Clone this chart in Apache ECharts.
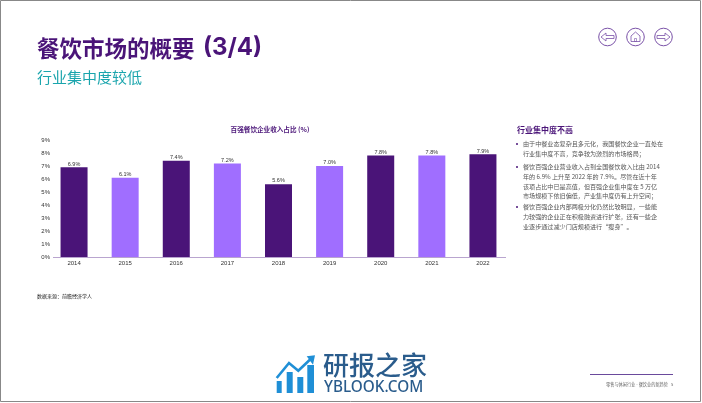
<!DOCTYPE html>
<html>
<head>
<meta charset="utf-8">
<style>
    html, body { margin: 0; padding: 0; background: #fff; }
    #chart { width: 702px; height: 403px; }
</style>
<script src="https://cdn.jsdelivr.net/npm/echarts@6/dist/echarts.min.js"></script>
</head>
<body>
<div id="chart"></div>
<script>
    const years = ['2014', '2015', '2016', '2017', '2018', '2019', '2020', '2021', '2022'];
    const shares = [6.9, 6.1, 7.4, 7.2, 5.6, 7.0, 7.8, 7.8, 7.9];
    const yTicks = [0, 1, 2, 3, 4, 5, 6, 7, 8, 9];

    const paragraphs = [
        ['由于中餐业态复杂且多元化，我国餐饮企业一直处在', '行业集中度不高，竞争较为激烈的市场格局；'],
        ['餐饮百强企业营业收入占到全国餐饮收入比由 2014', '年的 6.9% 上升至 2022 年的 7.9%。尽管在近十年', '该项占比中已是高值，但百强企业集中度在 5 万亿', '市场规模下依旧偏低，产业集中度仍有上升空间；'],
        ['餐饮百强企业内部两极分化仍然比较明显，一些能', '力较强的企业正在积极融资进行扩张，还有一些企', '业逐步通过减少门店规模进行“瘦身”。']
    ];
    const paragraphTops = [144, 167, 207];

    const DARK = '#4a1478';
    const LIGHT = '#a06eff';
    const TEAL = '#1aa5ad';
    const ICON = '#7a52a8';
    const FONT = '"Noto Sans CJK SC", "Noto Sans", sans-serif';
    const LATIN = '"Liberation Sans", "Noto Sans CJK SC", sans-serif';

    function label(x, y, text, size, fill, weight, align, family) {
        return {
            type: 'text', x: x, y: y, silent: true,
            style: {
                text: text, fill: fill, align: align || 'left', verticalAlign: 'middle',
                font: (weight || 'normal') + ' ' + size + 'px ' + (family || FONT)
            }
        };
    }

    // 右侧说明文字，每行单独放
    function sideNotes() {
        let items = [label(517, 130, '行业集中度不高', 8, DARK, 'bold')];
        paragraphs.forEach((lines, i) => {
            items.push({ type: 'circle', silent: true, shape: { cx: 517, cy: paragraphTops[i], r: 1 }, style: { fill: DARK } });
            lines.forEach((line, j) => {
                items.push(label(523, paragraphTops[i] + j * 9.6, line, 6.1, '#555'));
            });
        });
        return items;
    }

    // 右上角三个导航图标
    function navIcons() {
        let items = [];
        [607.5, 635.5, 663.5].forEach(cx => {
            items.push({ type: 'circle', silent: true, shape: { cx: cx, cy: 37, r: 8.8 }, style: { fill: 'none', stroke: ICON, lineWidth: 1 } });
        });
        const line = { fill: 'none', stroke: ICON, lineWidth: 0.8 };
        items.push({ type: 'polygon', silent: true, shape: { points: [[601, 37], [606, 33], [606, 35.5], [614, 35.5], [614, 38.5], [606, 38.5], [606, 41]] }, style: line });
        items.push({ type: 'polygon', silent: true, shape: { points: [[670, 37], [665, 33], [665, 35.5], [657, 35.5], [657, 38.5], [665, 38.5], [665, 41]] }, style: line });
        items.push({ type: 'polygon', silent: true, shape: { points: [[635.5, 32], [640, 36], [640, 41.5], [631, 41.5], [631, 36]] }, style: line });
        items.push({ type: 'rect', silent: true, shape: { x: 634.5, y: 38.5, width: 2, height: 3 }, style: { fill: 'none', stroke: ICON, lineWidth: 0.6 } });
        return items;
    }

    // 底部水印
    function watermark() {
        const blue = '#1f8fd6';
        let items = [];
        [[276.7, 381, 5], [286.7, 372, 6], [297.3, 377, 6], [307.3, 365, 6.7]].forEach(b => {
            items.push({ type: 'rect', silent: true, shape: { x: b[0], y: b[1], width: b[2], height: 393 - b[1] }, style: { fill: blue } });
        });
        items.push({ type: 'polyline', silent: true, shape: { points: [[276.7, 378], [289, 363], [298.3, 370.7], [311.7, 358]] }, style: { fill: 'none', stroke: blue, lineWidth: 2.6 } });
        items.push({ type: 'polygon', silent: true, shape: { points: [[306.7, 356.3], [315, 355.3], [313, 364.7]] }, style: { fill: blue } });
        items.push(label(323, 365, '研报之家', 26, '#2a5c8c', '500'));
        items.push(label(324, 388, 'YBLOOK.COM', 15.3, '#2a5c8c', '500', 'left', '"Noto Sans", sans-serif'));
        return items;
    }

    const chart = echarts.init(document.getElementById('chart'), null, { renderer: 'canvas' });

    const option = {
        animation: false,
        backgroundColor: '#fff',
        grid: { left: 48.5, top: 140, width: 460, height: 117 },
        xAxis: {
            type: 'category',
            data: years,
            axisTick: { show: false },
            axisLine: { show: false },
            axisLabel: { color: '#333', fontSize: 6, fontFamily: LATIN, margin: 3.5 }
        },
        yAxis: {
            type: 'value',
            min: yTicks[0],
            max: yTicks[yTicks.length - 1],
            interval: 1,
            splitLine: { show: false },
            axisLine: { show: false },
            axisTick: { show: false },
            axisLabel: { formatter: '{value}%', color: '#333', fontSize: 6, fontFamily: LATIN, margin: -1.5 }
        },
        series: [{
            type: 'bar',
            data: shares,
            barWidth: 27,
            itemStyle: {
                color: params => params.dataIndex % 2 ? LIGHT : DARK
            },
            label: {
                show: true,
                position: 'top',
                distance: 0.5,
                color: '#333',
                fontSize: 5.5,
                fontFamily: LATIN,
                formatter: params => params.value.toFixed(1) + '%'
            }
        }],
        graphic: [
            { type: 'rect', silent: true, z: -1, shape: { x: 0.5, y: 0.5, width: 700, height: 401 }, style: { fill: 'none', stroke: '#888', lineWidth: 1 } },
            label(37, 48, '餐饮市场的概要', 22.5, DARK, 'bold'),
            label(203, 48, '(3/4)', 24, DARK, 'bold', 'left', 'Inter, sans-serif'),
            label(37, 77, '行业集中度较低', 15, TEAL),
            label(270, 129, '百强餐饮企业收入占比 (%)', 6.6, DARK, 'bold', 'center'),
            { type: 'line', silent: true, shape: { x1: 53, y1: 257.5, x2: 506, y2: 257.5 }, style: { stroke: '#b9a5cf', lineWidth: 1 } },
            label(37, 296, '数据来源：前瞻经济学人', 5, '#222'),
            { type: 'line', silent: true, shape: { x1: 590, y1: 374.5, x2: 673, y2: 374.5 }, style: { stroke: '#6a4a9c', lineWidth: 1 } },
            label(606, 384, '零售与休闲行业 - 餐饮业的新趋势', 4.2, '#666'),
            label(671, 384, '5', 4.2, '#666')
        ].concat(sideNotes(), navIcons(), watermark())
    };

    chart.setOption(option);
</script>
</body>
</html>
